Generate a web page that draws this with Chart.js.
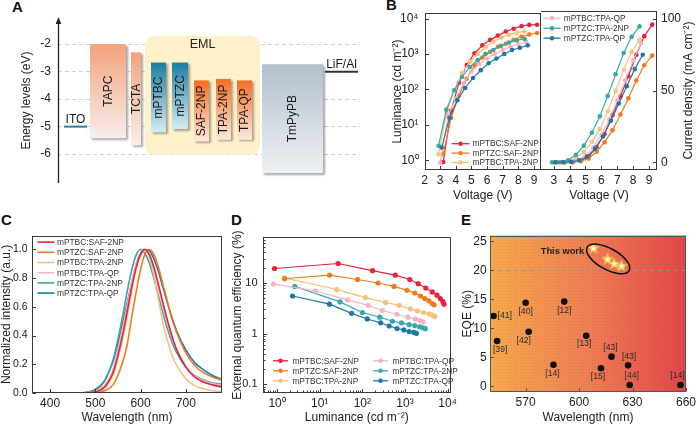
<!DOCTYPE html>
<html><head><meta charset="utf-8">
<script src="https://cdn.jsdelivr.net/npm/chart.js@4.4.1/dist/chart.umd.min.js"></script>
<style>
html,body{margin:0;padding:0;background:#fff;}
#root{position:relative;width:699px;height:426px;overflow:hidden;background:#fff;font-family:'Liberation Sans',Arial,sans-serif;}
#root canvas{position:absolute;}
.plab{position:absolute;font-weight:bold;font-size:15px;line-height:15px;color:#111;}
</style></head><body><div id="root">
<div class="plab" style="left:12px;top:-1px">A</div>
<div class="plab" style="left:386px;top:-3px">B</div>
<div class="plab" style="left:1px;top:212px">C</div>
<div class="plab" style="left:231px;top:212px">D</div>
<div class="plab" style="left:461px;top:212px">E</div>
</div>
<script>
// ================= DATA =================
// --- A: energy levels (eV) ---
const levelMaterials = ['TAPC','TCTA','mPTBC','mPTZC','SAF-2NP','TPA-2NP','TPA-QP','TmPyPB'];
const levelLUMO = [-2.0,-2.3,-2.67,-2.67,-3.32,-3.27,-3.32,-2.73];
const levelHOMO = [-5.42,-5.68,-5.21,-5.09,-5.54,-5.48,-5.48,-6.69];
const electrodeNames = ['ITO','LiF/Al'];
const electrodeLevels = [-5.0,-3.0];
const emlEnergyRange = [-1.7,-6.02];
const energyTicks = [-2,-3,-4,-5,-6];
// --- B: J-V-L ---
const seriesNames = ['mPTBC:SAF-2NP','mPTZC:SAF-2NP','mPTBC:TPA-2NP','mPTBC:TPA-QP','mPTZC:TPA-2NP','mPTZC:TPA-QP'];
const vBC_SAF = [3.2,3.7,4.2,4.7,5.2,5.7,6.2,6.7,7.2,7.7,8.2,8.7,9.2];
const lumBC_SAF = [0.9,25,155,490,1050,1750,2500,3300,4300,5150,6100,6600,6700];
const jBC_SAF = [0,0,0.2,0.9,3.9,10.7,19.7,33,46,60,75,88,96];
const vTZ_SAF = [3.2,3.7,4.2,4.7,5.2,5.7,6.2,6.7,7.2,7.7,8.2,8.7,9.2];
const lumTZ_SAF = [1.5,16,67,200,470,800,1150,1600,1950,2500,3100,3550,3900];
const jTZ_SAF = [0,0,0,0.7,2.7,7.3,14,22.4,33.3,44.7,57,67.7,74.4];
const vBC_TPA2NP = [2.9,3.4,3.9,4.4,4.9,5.4,5.9,6.4,6.9,7.4,7.9,8.4];
const lumBC_TPA2NP = [1.5,22,95,290,600,1000,1550,2200,2900,3500,4000,4300];
const jBC_TPA2NP = [0,0,0.7,2.7,7.3,14.1,23.1,35.6,49.7,64.6,77.1,85.5];
const vBC_TPAQP = [3.0,3.5,4.0,4.5,5.0,5.5,6.0,6.5,7.0,7.5,8.0,8.5];
const lumBC_TPAQP = [0.85,18,55,150,320,520,750,1000,1300,1600,1900,2200];
const jBC_TPAQP = [0,0,0.4,1.6,4.8,10.5,19,30,43,57,71,83];
const vTZ_TPA2NP = [2.9,3.4,3.9,4.4,4.9,5.4,5.9,6.4,6.9,7.4,7.9,8.4];
const lumTZ_TPA2NP = [2.6,27,95,225,430,680,1000,1300,1700,2100,2450,2650];
const jTZ_TPA2NP = [0,0,1.4,5.2,11.6,20.6,32,46.3,61.4,76.2,87.5,94.8];
const vTZ_TPAQP = [3.1,3.6,4.1,4.6,5.1,5.6,6.1,6.6,7.1,7.6,8.1,8.6];
const lumTZ_TPAQP = [2.3,16,50,110,210,350,550,750,1000,1300,1500,1750];
const jTZ_TPAQP = [0,0,0.3,1.4,4,9.5,18,29,41,53,65,75];
const voltTicksLeft = [2,3,4,5,6,7,8,9];
const voltTicksRight = [3,4,5,6,7,8,9];
const lumTicks = [1,10,100,1000,10000];
const lumTickLabels = ['10\u2070','10\u00B9','10\u00B2','10\u00B3','10\u2074'];
const currentTicks = [0,50,100];
// --- C: EL spectra ---
const wavelengths = [360,460,480,500,520,540,560,570,580,590,600,610,620,630,640,650,660,670,680,700,720,740,760,780];
const elBC_SAF   = [0,0,0.001,0.008,0.04,0.15,0.40,0.56,0.73,0.87,0.97,1.00,0.96,0.87,0.75,0.62,0.50,0.39,0.30,0.18,0.11,0.075,0.055,0.042];
const elTZ_SAF   = [0,0,0,0.003,0.015,0.06,0.21,0.33,0.52,0.70,0.86,0.97,1.00,0.96,0.87,0.75,0.63,0.51,0.42,0.28,0.19,0.14,0.11,0.088];
const elBC_TPA2NP= [0,0,0,0.005,0.03,0.13,0.37,0.52,0.70,0.86,0.97,1.00,0.94,0.81,0.64,0.48,0.36,0.26,0.19,0.10,0.05,0.028,0.016,0.009];
const elBC_TPAQP = [0,0,0.002,0.012,0.05,0.17,0.45,0.60,0.77,0.90,0.98,1.00,0.95,0.85,0.73,0.60,0.48,0.38,0.30,0.19,0.12,0.085,0.065,0.052];
const elTZ_TPA2NP= [0,0,0.004,0.02,0.08,0.24,0.53,0.70,0.85,0.96,1.00,0.97,0.90,0.79,0.67,0.55,0.44,0.35,0.28,0.18,0.12,0.09,0.07,0.062];
const elTZ_TPAQP = [0,0,0.005,0.025,0.085,0.23,0.48,0.62,0.76,0.88,0.96,1.00,0.99,0.93,0.84,0.73,0.62,0.52,0.43,0.30,0.21,0.16,0.12,0.095];
const wlTicksC = [400,500,600,700];
const intTicks = [0,0.2,0.4,0.6,0.8,1.0];
// --- D: EQE vs luminance ---
const dLumBC_SAF = [0.87,27,173,590,1300,2040,3080,4370,5640,6750,7780,8200];
const dEqeBC_SAF = [19.1,24,17.3,14.2,11.6,9.6,7.9,6.6,5.7,4.9,4.25,3.8];
const dLumTZ_SAF = [1.5,17,77,235,555,1120,1700,2300,2900,3650,4370,4800];
const dEqeTZ_SAF = [12,14.2,11.6,9.9,8.5,7.1,6.3,5.5,4.9,4.4,3.9,3.7];
const dLumBC_TPA2NP = [1.5,25,118,350,730,1340,1960,2740,3650,4370,5000];
const dEqeBC_TPA2NP = [12.5,7.4,5.1,4.1,3.6,3.07,2.8,2.6,2.45,2.3,2.15];
const dLumBC_TPAQP = [0.82,8,45,137,295,650,1180,1750,2220,2650];
const dEqeBC_TPAQP = [9.5,6.9,4.6,3.6,2.85,2.4,2.1,1.94,1.8,1.7];
const dLumTZ_TPA2NP = [2.6,30,100,257,510,830,1250,1700,2220,2650,3000];
const dEqeTZ_TPA2NP = [8.5,4.2,2.6,2.1,1.75,1.63,1.5,1.44,1.36,1.3,1.25];
const dLumTZ_TPAQP = [2.3,17,56,130,270,425,650,940,1250,1600,1860];
const dEqeTZ_TPAQP = [5.5,3.8,2.5,1.94,1.63,1.41,1.26,1.18,1.1,1.06,1.01];
const dLumTicks = [1,10,100,1000,10000];
const dLumTickLabels = ['10\u2070','10\u00B9','10\u00B2','10\u00B3','10\u2074'];
const dEqeTicks = [0.1,1,10];
const dEqeTickLabels = ['0.1','1','10'];
// --- E: EQE comparison ---
const refWavelength = [552,554,570,571.7,591.7,585.6,604,618.2,612.3,627.5,628.4,656.9];
const refEQE = [12.1,7.8,14.4,9.4,14.6,3.7,8.7,5.1,3.1,3.6,0.2,0.2];
const refLabels = ['[41]','[39]','[40]','[42]','[12]','[14]','[13]','[43]','[15]','[43]','[44]','[14]'];
const workWavelength = [608,616,619.7,623.8];
const workEQE = [23.8,21.9,21.1,20.7];
const eqeThreshold = 20;
const eWlTicks = [570,600,630,660];
const eEqeTicks = [0,5,10,15,20,25];

// ================= LAYOUT / STYLE =================
const seriesColors = ['#e8213c','#f07a1c','#f6c27e','#f5b3c2','#37a8aa','#1e78a6'];
// A: horizontal placement of columns in hidden x-axis units
const levelColumns = [[32,68],[73,83],[93,108],[114,130],[136,151],[158,173],[179,194],[204,265]];
const levelGroup = [0,0,1,1,2,2,2,3];
const levelGradients = [['#f2a27a','#f8eeec'],['#1b7ea2','#d6ebf3'],['#f36e22','#fde9de'],['#b3bfcc','#eef1f5']];
const electrodeColumns = [[6,29],[267,300]];
const electrodeColors = ['#2e7ca0','#333333'];
const emlColumns = [87,202];
// E label offsets in px [dx, dy, align]
const refLabelOffsets = [[4,0,'left'],[3,9,'center'],[0,9,'center'],[-5,9,'center'],[0,9,'center'],[-1,9,'center'],[-2,8,'center'],[-1,-9,'center'],[-3,8,'center'],[1,-9,'center'],[2,-9,'center'],[-3,-9,'center']];

const FONT = "'Liberation Sans', Arial, Helvetica, sans-serif";
Chart.defaults.font.family = FONT;
Chart.defaults.font.size = 12;
Chart.defaults.color = '#222';
Chart.defaults.animation = false;
Chart.defaults.responsive = false;
Chart.defaults.maintainAspectRatio = false;
Chart.defaults.plugins.legend.display = false;
Chart.defaults.plugins.tooltip.enabled = false;
Chart.defaults.events = [];

function mkCanvas(x,y,w,h){
  const c = document.createElement('canvas');
  c.width = w; c.height = h;
  c.style.left = x+'px'; c.style.top = y+'px'; c.style.width = w+'px'; c.style.height = h+'px';
  document.getElementById('root').appendChild(c);
  return c;
}
function axis(o){
  return {
    type: o.type || 'linear', position: o.position, min: o.min, max: o.max,
    majorTicks: o.ticks,
    grid: {display:false, drawOnChartArea:false, drawTicks:false},
    border: {display:false},
    ticks: {autoSkip:false, maxRotation:0, minRotation:0, padding: (o.tickPad===undefined?2:o.tickPad), color:'#222', font:{size:o.tickSize||12},
      callback: (v) => { const k = o.ticks.indexOf(v); return k >= 0 ? o.labels[k] : ''; }},
    afterBuildTicks: (sc) => { sc.ticks = o.ticks.concat(o.minor || []).sort((a,b)=>a-b).map(v => ({value:v})); },
    afterFit: (sc) => { if (sc.isHorizontal()) sc.height = o.fit; else sc.width = o.fit; },
    title: o.title ? {display:true, text:o.title, color:'#222', font:{size:12}, padding:{top:o.titlePad||0, bottom:o.titlePad||0}} : {display:false}
  };
}
function minorLog(lo, hi){
  const out = [];
  for (let e = -3; e <= 5; e++) for (let m = 2; m <= 9; m++) { const v = +(m*Math.pow(10,e)).toPrecision(6); if (v > lo && v < hi) out.push(v); }
  return out;
}
function xy(xs, ys){ return xs.map((v,i) => ({x:v, y:ys[i]})); }

const framePlugin = {
  id:'frame',
  afterDatasetsDraw(chart, args, o){
    const {ctx, chartArea:a} = chart; const s = o.sides || 'ltrb';
    const L = Math.round(a.left)+0.5, R = Math.round(a.right)-0.5, T = Math.round(a.top)+0.5, B = Math.round(a.bottom)-0.5;
    ctx.save(); ctx.strokeStyle = o.color || '#3a3a3a'; ctx.lineWidth = 1; ctx.beginPath();
    if (s.includes('l')) { ctx.moveTo(L,T); ctx.lineTo(L,B); }
    if (s.includes('r')) { ctx.moveTo(R,T); ctx.lineTo(R,B); }
    if (s.includes('t')) { ctx.moveTo(L-0.5,T); ctx.lineTo(R+0.5,T); }
    if (s.includes('b')) { ctx.moveTo(L-0.5,B); ctx.lineTo(R+0.5,B); }
    Object.values(chart.scales).forEach(sc => {
      if (!sc.options.display || !sc.options.majorTicks) return;
      sc.ticks.forEach(t => {
        const len = sc.options.majorTicks.includes(t.value) ? 3.5 : 2;
        const p = Math.round(sc.getPixelForValue(t.value)) + 0.5;
        if (sc.position === 'bottom') { ctx.moveTo(p, B); ctx.lineTo(p, B - len); }
        else if (sc.position === 'left') { ctx.moveTo(L, p); ctx.lineTo(L + len, p); }
        else if (sc.position === 'right') { ctx.moveTo(R, p); ctx.lineTo(R - len, p); }
      });
    });
    ctx.stroke(); ctx.restore();
  }
};
const legendPlugin = {
  id:'miniLegend',
  afterDatasetsDraw(chart, args, o){
    if (!o.indices) return;
    const {ctx, chartArea} = chart;
    ctx.save();
    ctx.font = o.size + 'px ' + FONT; ctx.textBaseline = 'middle'; ctx.textAlign = 'left';
    o.indices.forEach((di, i) => {
      const ds = chart.data.datasets[di];
      const col = Math.floor(i / o.rows), row = i % o.rows;
      const x = chartArea.left + o.x + col*(o.colW||0), y = chartArea.top + o.y + row*o.rowH;
      ctx.strokeStyle = ds.borderColor; ctx.lineWidth = o.lw || 1.3;
      ctx.beginPath(); ctx.moveTo(x, y); ctx.lineTo(x + o.len, y); ctx.stroke();
      if (o.r) { ctx.fillStyle = ds.borderColor; ctx.beginPath(); ctx.arc(x + o.len/2, y, o.r, 0, Math.PI*2); ctx.fill(); }
      ctx.fillStyle = '#333'; ctx.fillText(ds.label, x + o.len + o.gap, y + 0.5);
    });
    ctx.restore();
  }
};
const sideTitlePlugin = {
  id:'sideTitle',
  afterDraw(chart, args, o){
    if (!o.text) return;
    const {ctx, chartArea:a} = chart;
    ctx.save(); ctx.translate(o.x, (a.top + a.bottom)/2); ctx.rotate(-Math.PI/2);
    ctx.font = '12px ' + FONT; ctx.fillStyle = '#222'; ctx.textAlign = 'center'; ctx.textBaseline = 'middle';
    ctx.fillText(o.text, 0, 0); ctx.restore();
  }
};

// ================= PANEL A =================
const levelPlugin = {
  id:'levels',
  beforeDatasetsDraw(chart){
    const {ctx, chartArea:a, scales:{x, y}} = chart;
    const X = v => x.getPixelForValue(v), Y = v => y.getPixelForValue(v);
    ctx.save();
    const ex0 = X(emlColumns[0]), ex1 = X(emlColumns[1]), ey0 = Y(emlEnergyRange[0]), ey1 = Y(emlEnergyRange[1]);
    ctx.fillStyle = '#fcf1c9';
    ctx.beginPath(); ctx.roundRect(ex0, ey0, ex1-ex0, ey1-ey0, 9); ctx.fill();
    ctx.fillStyle = '#222'; ctx.font = '12.5px ' + FONT; ctx.textAlign = 'center'; ctx.textBaseline = 'middle';
    ctx.fillText('EML', (ex0+ex1)/2, Y(-2.0));
    levelMaterials.forEach((m, i) => {
      const px0 = X(levelColumns[i][0]), px1 = X(levelColumns[i][1]);
      const py0 = Y(levelLUMO[i]), py1 = Y(levelHOMO[i]);
      const gc = levelGradients[levelGroup[i]];
      const g = ctx.createLinearGradient(0, py0, 0, py1);
      g.addColorStop(0, gc[0]); g.addColorStop(1, gc[1]);
      ctx.save();
      ctx.shadowColor = 'rgba(0,0,0,0.35)'; ctx.shadowOffsetX = 1.5; ctx.shadowOffsetY = 1.5; ctx.shadowBlur = 2;
      ctx.fillStyle = g; ctx.fillRect(px0, py0, px1-px0, py1-py0);
      ctx.restore();
      ctx.save();
      ctx.translate((px0+px1)/2, (py0+py1)/2); ctx.rotate(-Math.PI/2);
      ctx.fillStyle = '#1a1a1a'; ctx.font = '12px ' + FONT; ctx.textAlign = 'center'; ctx.textBaseline = 'middle';
      ctx.fillText(m, 0, 0.5);
      ctx.restore();
    });
    electrodeNames.forEach((n, i) => {
      const px0 = X(electrodeColumns[i][0]), px1 = X(electrodeColumns[i][1]), py = Y(electrodeLevels[i]);
      ctx.strokeStyle = electrodeColors[i]; ctx.lineWidth = 2;
      ctx.beginPath(); ctx.moveTo(px0, py); ctx.lineTo(px1, py); ctx.stroke();
      ctx.fillStyle = '#1a1a1a'; ctx.font = '12px ' + FONT; ctx.textAlign = 'center'; ctx.textBaseline = 'alphabetic';
      ctx.fillText(n, (px0+px1)/2, py - 4);
    });
    const ax = Math.round(a.left) + 0.5;
    ctx.strokeStyle = '#222'; ctx.lineWidth = 1.3;
    ctx.beginPath(); ctx.moveTo(ax, a.bottom); ctx.lineTo(ax, a.top + 3); ctx.stroke();
    ctx.fillStyle = '#222';
    ctx.beginPath(); ctx.moveTo(ax, a.top - 1); ctx.lineTo(ax - 2.8, a.top + 6); ctx.lineTo(ax + 2.8, a.top + 6); ctx.closePath(); ctx.fill();
    ctx.restore();
  }
};
new Chart(mkCanvas(0,0,362,200), {
  type:'scatter', data:{datasets:[]},
  options:{
    layout:{padding:{top:18,bottom:17,left:0,right:2}, autoPadding:false},
    scales:{
      x:{type:'linear', display:false, min:0, max:302},
      y:{type:'linear', position:'left', min:-7.05, max:-1.05,
        grid:{drawOnChartArea:true, drawTicks:false, color:'#d0d0d0', lineWidth:1},
        border:{display:false, dash:[4,3]},
        ticks:{padding:7, color:'#222', font:{size:12}, callback: v => String(v)},
        afterBuildTicks: s => { s.ticks = energyTicks.map(v => ({value:v})); },
        afterFit: s => { s.width = 58; },
        title:{display:true, text:'Energy levels (eV)', color:'#222', font:{size:12}, padding:{top:19.8, bottom:0}}}
    }
  },
  plugins:[levelPlugin]
});

// ================= PANEL B =================
const bVolt = [vBC_SAF, vTZ_SAF, vBC_TPA2NP, vBC_TPAQP, vTZ_TPA2NP, vTZ_TPAQP];
const bLum = [lumBC_SAF, lumTZ_SAF, lumBC_TPA2NP, lumBC_TPAQP, lumTZ_TPA2NP, lumTZ_TPAQP];
const bCur = [jBC_SAF, jTZ_SAF, jBC_TPA2NP, jBC_TPAQP, jTZ_TPA2NP, jTZ_TPAQP];
function bSets(ys){
  return seriesNames.map((n, i) => ({label:n, data:xy(bVolt[i], ys[i]), showLine:true, borderColor:seriesColors[i], backgroundColor:seriesColors[i], borderWidth:1.2, pointRadius:2.3, pointBorderWidth:0})).reverse();
}
new Chart(mkCanvas(388,0,153,206), {
  type:'scatter', data:{datasets:bSets(bLum)},
  options:{
    layout:{padding:{top:7,right:0,left:0,bottom:0}, autoPadding:false},
    scales:{
      x: axis({min:2, max:9.45, position:'bottom', ticks:voltTicksLeft, labels:voltTicksLeft.map(String), fit:36, title:'Voltage (V)', titlePad:3.3, tickPad:3}),
      y: axis({type:'logarithmic', min:0.537, max:14125, position:'left', ticks:lumTicks, labels:lumTickLabels, fit:36.5, title:'Luminance (cd m\u207B\u00B2)', titlePad:2.8, tickPad:6})
    },
    plugins:{frame:{sides:'ltrb'}, miniLegend:{indices:[5,4,3], rows:3, x:27, y:130.5, rowH:9.4, len:18, gap:3, r:2.2, size:8.3}}
  },
  plugins:[framePlugin, legendPlugin]
});
new Chart(mkCanvas(541,0,158,206), {
  type:'scatter', data:{datasets:bSets(bCur)},
  options:{
    layout:{padding:{top:7,right:0,left:0,bottom:0}, autoPadding:false},
    scales:{
      x: axis({min:2.2, max:9.5, position:'bottom', ticks:voltTicksRight, labels:voltTicksRight.map(String), fit:36, title:'Voltage (V)', titlePad:3.3, tickPad:3}),
      y: axis({min:-5.4, max:105.4, position:'right', ticks:currentTicks, labels:currentTicks.map(String), fit:42, tickPad:4})
    },
    plugins:{frame:{sides:'trb'}, miniLegend:{indices:[2,1,0], rows:3, x:2.5, y:7, rowH:10, len:17, gap:3.3, r:2.2, size:8.3},
      sideTitle:{text:'Current density (mA cm\u207B\u00B2)', x:148}}
  },
  plugins:[framePlugin, legendPlugin, sideTitlePlugin]
});

// ================= PANEL C =================
const cSpectra = [elBC_SAF, elTZ_SAF, elBC_TPA2NP, elBC_TPAQP, elTZ_TPA2NP, elTZ_TPAQP];
new Chart(mkCanvas(0,225,226,200), {
  type:'scatter',
  data:{datasets: seriesNames.map((n, i) => ({label:n, data:xy(wavelengths, cSpectra[i]), showLine:true, borderColor:seriesColors[i], backgroundColor:seriesColors[i], borderWidth:1.6, pointRadius:0, cubicInterpolationMode:'monotone'}))},
  options:{
    layout:{padding:{top:7,right:4,left:0,bottom:0}, autoPadding:false},
    scales:{
      x: axis({min:360, max:780, position:'bottom', ticks:wlTicksC, labels:wlTicksC.map(String), fit:32, title:'Wavelength (nm)', titlePad:0, tickPad:3}),
      y: axis({min:0, max:1.095, position:'left', ticks:intTicks, labels:intTicks.map(v => v.toFixed(1)), fit:32, title:'Normalized intensity (a.u.)', titlePad:-0.4, tickPad:4.5, tickSize:10.5})
    },
    plugins:{frame:{sides:'ltrb'}, miniLegend:{indices:[0,1,2,3,4,5], rows:6, x:5.5, y:6.3, rowH:10.2, len:17, gap:2.4, r:0, size:8.4, lw:1.6}}
  },
  plugins:[framePlugin, legendPlugin]
});

// ================= PANEL D =================
const dLum = [dLumBC_SAF, dLumTZ_SAF, dLumBC_TPA2NP, dLumBC_TPAQP, dLumTZ_TPA2NP, dLumTZ_TPAQP];
const dEqe = [dEqeBC_SAF, dEqeTZ_SAF, dEqeBC_TPA2NP, dEqeBC_TPAQP, dEqeTZ_TPA2NP, dEqeTZ_TPAQP];
new Chart(mkCanvas(230,225,230,200), {
  type:'scatter',
  data:{datasets: seriesNames.map((n, i) => ({label:n, data:xy(dLum[i], dEqe[i]), showLine:true, borderColor:seriesColors[i], backgroundColor:seriesColors[i], borderWidth:1.2, pointRadius:2.6, pointBorderWidth:0}))},
  options:{
    layout:{padding:{top:7,right:9,left:0,bottom:0}, autoPadding:false},
    scales:{
      x: axis({type:'logarithmic', min:0.4677, max:11749, position:'bottom', ticks:dLumTicks, labels:dLumTickLabels, minor:minorLog(0.4677, 11749), fit:32, title:'Luminance (cd m\u207B\u00B2)', titlePad:0, tickPad:3}),
      y: axis({type:'logarithmic', min:0.0676, max:79.4, position:'left', ticks:dEqeTicks, labels:dEqeTickLabels, minor:minorLog(0.0676, 79.4), fit:33, title:'External quantum efficiency (%)', titlePad:0.3, tickPad:5.5, tickSize:11})
    },
    plugins:{frame:{sides:'ltrb'}, miniLegend:{indices:[0,1,2,3,4,5], rows:3, colW:100, x:10, y:123.7, rowH:10, len:15, gap:4.4, r:2.3, size:8.3}}
  },
  plugins:[framePlugin, legendPlugin]
});

// ================= PANEL E =================
function makeStar(r){
  const s = Math.ceil(r*2 + 4), c = document.createElement('canvas'); c.width = c.height = s;
  const g = c.getContext('2d'); g.translate(s/2, s/2);
  g.beginPath();
  for (let k = 0; k < 10; k++){ const rr = k % 2 ? r*0.45 : r; const an = -Math.PI/2 + k*Math.PI/5; g.lineTo(rr*Math.cos(an), rr*Math.sin(an)); }
  g.closePath(); g.fillStyle = '#fffbe6'; g.fill(); g.strokeStyle = '#f7c843'; g.lineWidth = 1.3; g.stroke();
  return c;
}
const dotTile = (() => { const c = document.createElement('canvas'); c.width = 3; c.height = 3; const g = c.getContext('2d'); g.fillStyle = 'rgba(120,40,20,0.13)'; g.fillRect(0,0,1,1); return c; })();
const ePlugin = {
  id:'eDeco',
  beforeDatasetsDraw(chart){
    const {ctx, chartArea:a, scales:{y}} = chart;
    ctx.save();
    const g = ctx.createLinearGradient(a.left, 0, a.right, 0);
    g.addColorStop(0, '#f6aa4b'); g.addColorStop(0.5, '#ef7e55'); g.addColorStop(1, '#e1464a');
    ctx.fillStyle = g; ctx.fillRect(a.left, a.top, a.right-a.left, a.bottom-a.top);
    ctx.fillStyle = ctx.createPattern(dotTile, 'repeat'); ctx.fillRect(a.left, a.top, a.right-a.left, a.bottom-a.top);
    const ty = Math.round(y.getPixelForValue(eqeThreshold)) + 0.5;
    ctx.strokeStyle = '#8e97a0'; ctx.lineWidth = 1; ctx.setLineDash([4,4]);
    ctx.beginPath(); ctx.moveTo(a.left, ty); ctx.lineTo(a.right, ty); ctx.stroke();
    ctx.restore();
  },
  afterDatasetsDraw(chart){
    const {ctx} = chart;
    const refMeta = chart.getDatasetMeta(0), workMeta = chart.getDatasetMeta(1);
    ctx.save();
    ctx.font = '8.6px ' + FONT; ctx.fillStyle = '#2a2a2a'; ctx.textBaseline = 'middle';
    refLabels.forEach((t, i) => {
      const p = refMeta.data[i], o = refLabelOffsets[i];
      ctx.textAlign = o[2]; ctx.fillText(t, p.x + o[0], p.y + o[1]);
    });
    let cx = 0, cy = 0;
    workMeta.data.forEach(p => { cx += p.x; cy += p.y; });
    cx /= workMeta.data.length; cy /= workMeta.data.length;
    cx -= 1; cy -= 0.5;
    ctx.strokeStyle = '#111'; ctx.lineWidth = 1.5;
    ctx.beginPath(); ctx.ellipse(cx, cy, 24, 10.5, 29*Math.PI/180, 0, Math.PI*2); ctx.stroke();
    ctx.font = 'bold 9.3px ' + FONT; ctx.fillStyle = '#222'; ctx.textAlign = 'right';
    ctx.fillText('This work', cx - 24, cy - 7);
    ctx.restore();
  }
};
new Chart(mkCanvas(460,225,239,200), {
  type:'scatter',
  data:{datasets:[
    {label:'Reported', data:xy(refWavelength, refEQE), pointRadius:3.3, backgroundColor:'#111', borderColor:'#111', pointBorderWidth:0},
    {label:'This work', data:xy(workWavelength, workEQE), pointStyle:makeStar(5), pointRadius:5}
  ]},
  options:{
    layout:{padding:{top:6,right:9,left:0,bottom:0}, autoPadding:false},
    scales:{
      x: axis({min:550, max:660, position:'bottom', ticks:eWlTicks, labels:eWlTicks.map(String), fit:33, title:'Wavelength (nm)', titlePad:0, tickPad:3}),
      y: axis({min:-1, max:26, position:'left', ticks:eEqeTicks, labels:eEqeTicks.map(String), fit:30, title:'EQE (%)', titlePad:0, tickPad:3.3})
    },
    plugins:{frame:{sides:'ltrb', color:'#555'}}
  },
  plugins:[ePlugin, framePlugin]
});
</script></body></html>
